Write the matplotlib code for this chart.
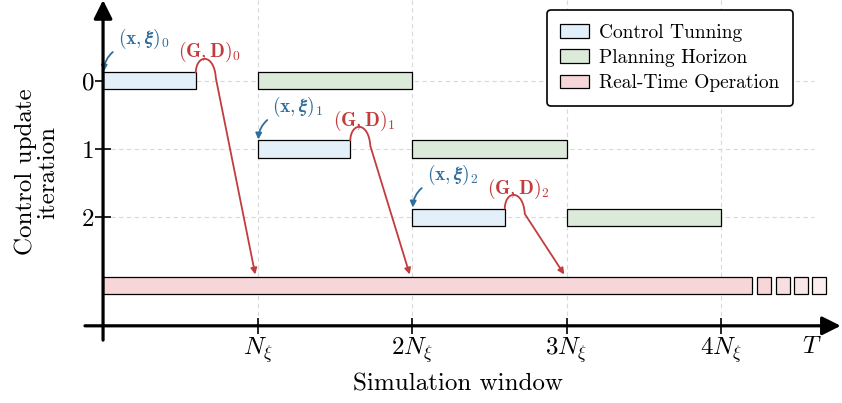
import numpy as np
import matplotlib
matplotlib.use('Agg')
import matplotlib.pyplot as plt
from matplotlib.patches import Rectangle, Patch, FancyArrowPatch
from matplotlib.path import Path

plt.rcParams['font.family'] = 'serif'
plt.rcParams['font.serif'] = ['cmr10']
plt.rcParams['mathtext.fontset'] = 'cm'
plt.rcParams['axes.unicode_minus'] = False

# data (time in units of N_xi)
iterations = [0, 1, 2]
tuning_len = 0.6
horizon_len = 1.0
realtime_end = 4.2
tail_starts = [4.233, 4.356, 4.472, 4.589]
tail_width = 0.09
tail_alpha = [1.0, 0.8, 0.6, 0.4]
xtick_pos = [1, 2, 3, 4]
xtick_labels = [r'$N_\xi$', r'$2N_\xi$', r'$3N_\xi$', r'$4N_\xi$']
T_pos = 4.59
legend_labels = ['Control Tunning', 'Planning Horizon', 'Real-Time Operation']

c_tune = '#e3eff9'
c_plan = '#dcebd9'
c_rt = '#f6d6d9'
c_red = '#c23b3e'
c_blue = '#2f6e9c'
bar_h = 0.25
rt_row = 3

fig = plt.figure(figsize=(8.42, 4.03), dpi=100)
ax = fig.add_axes([0, 0, 1, 1])
ax.set_xlim(-0.667, 4.783)
ax.set_ylim(4.735, -1.191)

# grid
ax.vlines(xtick_pos, -1.19, 3.6, colors='#d9d9d9', linestyles=(0, (4, 3)), lw=0.8, zorder=0)
ax.hlines(iterations, 0, 4.6, colors='#d9d9d9', linestyles=(0, (4, 3)), lw=0.8, zorder=0)

for i in iterations:
    ax.add_patch(Rectangle((i, i - bar_h / 2), tuning_len, bar_h, fc=c_tune, ec='k', lw=0.9, zorder=2))
    ax.add_patch(Rectangle((i + 1, i - bar_h / 2), horizon_len, bar_h, fc=c_plan, ec='k', lw=0.9, zorder=2))
    # (x, xi)_i label with curved arrow
    ax.annotate(r'$(\mathbf{x},\boldsymbol{\xi})_%d$' % i, xy=(i + 0.005, i - 0.14),
                xytext=(i + 0.095, i - 0.62), color=c_blue, fontsize=14, va='center', ha='left',
                arrowprops=dict(arrowstyle='-|>', color=c_blue, lw=1.3, mutation_scale=9,
                                shrinkA=2, shrinkB=0, connectionstyle='arc3,rad=0.3',
                                relpos=(0.05, 0.15)))
    # (G, D)_i label with hump arrow
    ax.text(i + 0.69, i - 0.42, r'$(\mathbf{G},\mathbf{D})_%d$' % i, color=c_red,
            fontsize=14, ha='center', va='center')
    x0, y0 = i + tuning_len, i - bar_h / 2
    verts = [(x0, y0), (x0 + 0.005, y0 - 0.28), (x0 + 0.12, y0 - 0.28), (x0 + 0.13, y0 + 0.08),
             (i + 0.985, rt_row - bar_h / 2 - 0.03)]
    codes = [Path.MOVETO, Path.CURVE4, Path.CURVE4, Path.CURVE4, Path.LINETO]
    ax.add_patch(FancyArrowPatch(path=Path(verts, codes), arrowstyle='-|>', color=c_red,
                                 lw=1.3, mutation_scale=9, zorder=3))

ax.add_patch(Rectangle((0, rt_row - bar_h / 2), realtime_end, bar_h, fc=c_rt, ec='k', lw=0.9, zorder=2))
for s, a in zip(tail_starts, tail_alpha):
    ax.add_patch(Rectangle((s, rt_row - bar_h / 2), tail_width, bar_h, fc=c_rt, alpha=a, zorder=2))
    ax.add_patch(Rectangle((s, rt_row - bar_h / 2), tail_width, bar_h, fc='none', ec='k', lw=0.9, zorder=2))

# axes with arrows
for sp in ax.spines.values():
    sp.set_visible(False)
ax.spines['left'].set_position(('data', 0))
ax.spines['bottom'].set_position(('data', 3.6))
ax.annotate('', xy=(0, -1.19), xytext=(0, 3.81),
            arrowprops=dict(arrowstyle='-|>', lw=2.3, color='k', mutation_scale=28, shrinkA=0, shrinkB=0))
ax.annotate('', xy=(4.775, 3.6), xytext=(-0.117, 3.6),
            arrowprops=dict(arrowstyle='-|>', lw=2.3, color='k', mutation_scale=28, shrinkA=0, shrinkB=0))

ax.set_yticks(iterations)
ax.set_yticklabels([str(i) for i in iterations])
ax.set_xticks(xtick_pos)
ax.set_xticklabels(xtick_labels)
ax.set_xticks([T_pos], [r'$T$'], minor=True)
ax.tick_params(axis='both', which='major', direction='inout', length=12, width=1.2, labelsize=18)
ax.tick_params(axis='x', which='major', pad=1)
ax.tick_params(axis='x', which='minor', length=0, labelsize=18, pad=7)
ax.tick_params(axis='y', pad=0)

ax.text(2.3, 4.46, 'Simulation window', fontsize=18, ha='center', va='center')
ax.text(-0.43, 1.34, 'Control update\niteration', fontsize=18, ha='center', va='center',
        rotation=90, linespacing=1.0)

handles = [Patch(fc=c, ec='k', lw=0.9) for c in (c_tune, c_plan, c_rt)]
leg = ax.legend(handles, legend_labels, loc='upper right', bbox_to_anchor=(0.942, 0.975),
                bbox_transform=fig.transFigure, fontsize=14, frameon=True, fancybox=True,
                handlelength=1.45, handleheight=0.7, handletextpad=0.55, borderpad=0.7,
                labelspacing=0.38, borderaxespad=0, framealpha=1.0)
leg.get_frame().set_edgecolor('k')
leg.get_frame().set_linewidth(1.2)

fig.savefig('out.png', dpi=100)
